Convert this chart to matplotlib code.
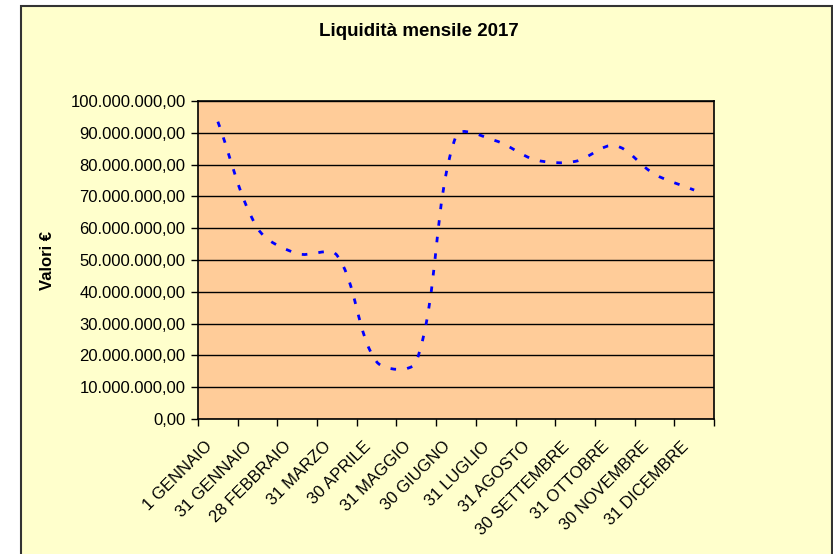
import numpy as np
import matplotlib
matplotlib.use("Agg")
import matplotlib.pyplot as plt
from matplotlib.path import Path
from matplotlib.patches import PathPatch, Rectangle
from matplotlib.ticker import FuncFormatter
from matplotlib.transforms import ScaledTranslation

plt.rcParams["font.family"] = ["Liberation Sans", "DejaVu Sans"]

mesi = ["1 GENNAIO", "31 GENNAIO", "28 FEBBRAIO", "31 MARZO", "30 APRILE",
        "31 MAGGIO", "30 GIUGNO", "31 LUGLIO", "31 AGOSTO", "30 SETTEMBRE",
        "31 OTTOBRE", "30 NOVEMBRE", "31 DICEMBRE"]
liquidita = [93.5e6, 60e6, 52e6, 51.5e6, 18e6, 18e6, 89e6, 87.5e6,
             81.5e6, 81e6, 86e6, 77e6, 72e6]

fig = plt.figure(figsize=(8.33, 5.54), dpi=100, facecolor="white")

# chart area background with border (like Excel)
bg = Rectangle((21 / 833, -0.05), (832 - 21) / 833, 1.05 - 6 / 554,
               transform=fig.transFigure, facecolor="#FFFFCC",
               edgecolor="#333333", linewidth=1.5, zorder=-10)
fig.patches.append(bg)

ax = fig.add_axes([198 / 833, 1 - 419 / 554, (714 - 198) / 833, (419 - 101) / 554])
ax.set_facecolor("#FFCC99")
ax.set_xlim(-0.5, len(mesi) - 0.5)
ax.set_ylim(0, 100e6)

# smoothed line, Excel style: bezier tangents weighted by segment lengths on screen
x = np.arange(len(liquidita), dtype=float)
y = np.array(liquidita)
sx = 516 / len(mesi)      # px per category
sy = 318 / 100e6          # px per euro
P = np.column_stack([x * sx, y * sy])
n = len(P)
d = np.hypot(*np.diff(P, axis=0).T)
verts = [tuple(P[0])]
codes = [Path.MOVETO]
for i in range(n - 1):
    p0 = P[max(i - 1, 0)]
    p3 = P[min(i + 2, n - 1)]
    dl = d[i - 1] if i > 0 else 0
    dr = d[i + 1] if i < n - 2 else 0
    c1 = P[i] + (P[i + 1] - p0) / 3 * d[i] / (dl + d[i])
    c2 = P[i + 1] - (p3 - P[i]) / 3 * d[i] / (d[i] + dr)
    verts += [tuple(c1), tuple(c2), tuple(P[i + 1])]
    codes += [Path.CURVE4] * 3
verts = [(vx / sx, vy / sy) for vx, vy in verts]
patch = PathPatch(Path(verts, codes), facecolor="none", edgecolor="#0000FF",
                  linewidth=2.0, linestyle=(0, (2.0, 4.0)), zorder=3)
ax.add_patch(patch)

ax.set_yticks(np.arange(0, 100e6 + 1, 10e6))


def fmt(v, pos):
    s = f"{v:,.2f}"
    return s.replace(",", "X").replace(".", ",").replace("X", ".")


ax.yaxis.set_major_formatter(FuncFormatter(fmt))
ax.grid(axis="y", color="black", linewidth=1.0)
ax.set_axisbelow(True)

ax.set_xticks(x)
ax.set_xticklabels(mesi, rotation=45, ha="right", va="center", rotation_mode="anchor")
ax.set_xticks(np.arange(-0.5, len(mesi)), minor=True)
ax.tick_params(axis="x", which="major", length=0, pad=21, labelsize=12)
ax.tick_params(axis="x", which="minor", length=5, width=1, direction="out")
ax.tick_params(axis="y", length=5, width=1, direction="out", labelsize=12, pad=4)

shift = ScaledTranslation(-8 / 100, 4 / 100, fig.dpi_scale_trans)
for lab in ax.get_xticklabels():
    lab.set_transform(lab.get_transform() + shift)

for side in ["top", "right", "left", "bottom"]:
    ax.spines[side].set_color("black")
    ax.spines[side].set_linewidth(1.2)

fig.text(419 / 833, 1 - 31 / 554, "Liquidità mensile 2017", ha="center",
         va="center", fontsize=13.5, fontweight="bold")
fig.text(48 / 833, 1 - 261 / 554, "Valori €", ha="center", va="center",
         rotation=90, fontsize=12, fontweight="bold")

fig.savefig("out.png", dpi=100, facecolor=fig.get_facecolor())
